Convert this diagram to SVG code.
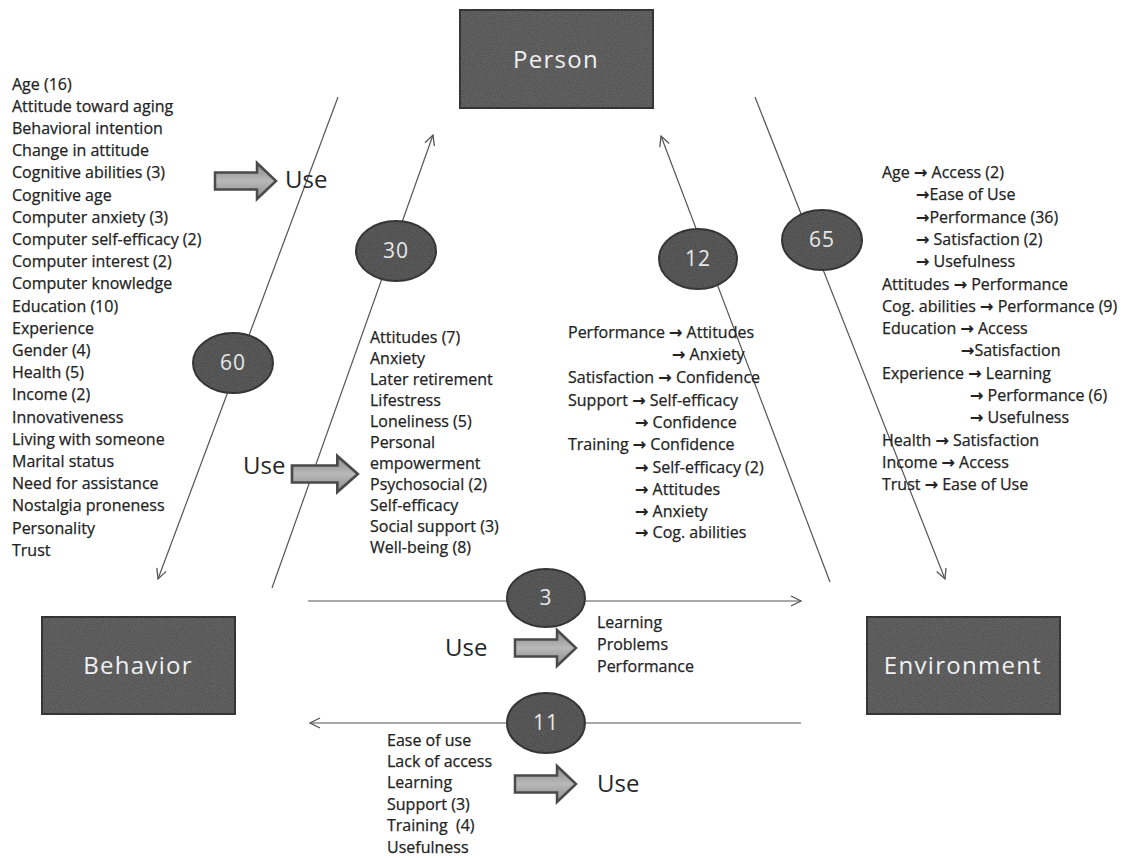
<svg xmlns="http://www.w3.org/2000/svg" width="1132" height="858" viewBox="0 0 1132 858">
  <style>
    .box { fill: #646464; stroke: #3a3a3a; stroke-width: 2; filter: url(#grain); }
    .box-label { font-family: "Open Sans", "DejaVu Sans", sans-serif; font-size: 24px; fill: #f0f0f0; text-anchor: middle; letter-spacing: 1.3px; }
    .count { fill: #5c5c5c; stroke: #3a3a3a; stroke-width: 2; filter: url(#grain); }
    .count-label { font-family: "Open Sans", "DejaVu Sans", sans-serif; font-size: 21px; fill: #e8e8e8; text-anchor: middle; letter-spacing: 1px; }
    .link { fill: none; stroke: #555; stroke-width: 1.2; marker-end: url(#open-arrow); }
    .list { font-family: "Open Sans", "DejaVu Sans", sans-serif; font-size: 16px; fill: #232323; stroke: #232323; stroke-width: 0.25; }
    .arr { font-family: "DejaVu Sans", sans-serif; font-weight: bold; }
    .use { font-family: "Open Sans", "DejaVu Sans", sans-serif; font-size: 24px; fill: #262626; }
    .block { fill: url(#block-fill); stroke: #4a4a4a; stroke-width: 2.5; stroke-linejoin: miter; }
  </style>
  <defs>
    <marker id="open-arrow" viewBox="0 0 12 12" refX="11" refY="6" markerWidth="12" markerHeight="12" markerUnits="userSpaceOnUse" orient="auto">
      <path d="M1,1 L11,6 L1,11" fill="none" stroke="#555" stroke-width="1.3"/>
    </marker>
    <linearGradient id="block-fill" x1="0" y1="0" x2="0" y2="1">
      <stop offset="0" stop-color="#8a8a8a"/>
      <stop offset="0.5" stop-color="#b8b8b8"/>
      <stop offset="1" stop-color="#8a8a8a"/>
    </linearGradient>
    <!-- speckled print texture for the dark shapes -->
    <filter id="grain">
      <feTurbulence type="fractalNoise" baseFrequency="0.85" numOctaves="1" seed="7" result="noise"/>
      <feColorMatrix in="noise" type="matrix" values="0 0 0 0 0  0 0 0 0 0  0 0 0 0 0  0.9 0 0 0 -0.3" result="speckle"/>
      <feComposite in="speckle" in2="SourceGraphic" operator="atop"/>
    </filter>
    <path id="block-arrow" d="M0,-8.5 H42 V-18 L61,0 L42,18 V8.5 H0 Z"/>
  </defs>

  <rect width="1132" height="858" fill="#ffffff"/>

  <!-- connectors -->
  <g id="connectors">
    <line class="link" x1="338" y1="97" x2="158" y2="579"/>
    <line class="link" x1="272" y1="588" x2="433" y2="135"/>
    <line class="link" x1="830" y1="582" x2="661" y2="136"/>
    <line class="link" x1="755" y1="97" x2="945" y2="579"/>
    <line class="link" x1="308" y1="601" x2="801" y2="601"/>
    <line class="link" x1="801" y1="723" x2="310" y2="723"/>
  </g>

  <!-- main nodes -->
  <g id="person">
    <rect class="box" x="460" y="10" width="193" height="98"/>
    <text class="box-label" x="556" y="68">Person</text>
  </g>
  <g id="behavior">
    <rect class="box" x="42" y="617" width="193" height="97"/>
    <text class="box-label" x="138" y="674">Behavior</text>
  </g>
  <g id="environment">
    <rect class="box" x="867" y="617" width="193" height="97"/>
    <text class="box-label" x="963" y="674">Environment</text>
  </g>

  <!-- study counts on each path -->
  <g id="count-60">
    <ellipse class="count" cx="233" cy="363" rx="40" ry="30"/>
    <text class="count-label" x="233" y="370">60</text>
  </g>
  <g id="count-30">
    <ellipse class="count" cx="396" cy="251" rx="40" ry="30"/>
    <text class="count-label" x="396" y="258">30</text>
  </g>
  <g id="count-12">
    <ellipse class="count" cx="698" cy="259" rx="39" ry="30"/>
    <text class="count-label" x="698" y="266">12</text>
  </g>
  <g id="count-65">
    <ellipse class="count" cx="822" cy="240" rx="40" ry="30"/>
    <text class="count-label" x="822" y="247">65</text>
  </g>
  <g id="count-3">
    <ellipse class="count" cx="546" cy="598" rx="39" ry="29"/>
    <text class="count-label" x="546" y="605">3</text>
  </g>
  <g id="count-11">
    <ellipse class="count" cx="546" cy="723" rx="39" ry="30"/>
    <text class="count-label" x="546" y="730">11</text>
  </g>

  <!-- person factors leading to use -->
  <g id="person-factors">
    <text class="list" x="12" y="89.5">
      <tspan x="12">Age (16)</tspan>
      <tspan x="12" dy="22.2">Attitude toward aging</tspan>
      <tspan x="12" dy="22.2">Behavioral intention</tspan>
      <tspan x="12" dy="22.2">Change in attitude</tspan>
      <tspan x="12" dy="22.2">Cognitive abilities (3)</tspan>
      <tspan x="12" dy="22.2">Cognitive age</tspan>
      <tspan x="12" dy="22.2">Computer anxiety (3)</tspan>
      <tspan x="12" dy="22.2">Computer self-efficacy (2)</tspan>
      <tspan x="12" dy="22.2">Computer interest (2)</tspan>
      <tspan x="12" dy="22.2">Computer knowledge</tspan>
      <tspan x="12" dy="22.2">Education (10)</tspan>
      <tspan x="12" dy="22.2">Experience</tspan>
      <tspan x="12" dy="22.2">Gender (4)</tspan>
      <tspan x="12" dy="22.2">Health (5)</tspan>
      <tspan x="12" dy="22.2">Income (2)</tspan>
      <tspan x="12" dy="22.2">Innovativeness</tspan>
      <tspan x="12" dy="22.2">Living with someone</tspan>
      <tspan x="12" dy="22.2">Marital status</tspan>
      <tspan x="12" dy="22.2">Need for assistance</tspan>
      <tspan x="12" dy="22.2">Nostalgia proneness</tspan>
      <tspan x="12" dy="22.2">Personality</tspan>
      <tspan x="12" dy="22.2">Trust</tspan>
    </text>
    <use href="#block-arrow" class="block" transform="translate(215,181)"/>
    <text class="use" x="285" y="188">Use</text>
  </g>

  <!-- outcomes of use for the person -->
  <g id="use-outcomes-person">
    <text class="use" x="243" y="474">Use</text>
    <use href="#block-arrow" class="block" transform="translate(292,474) scale(1.08,1)"/>
    <text class="list" x="370" y="342.5">
      <tspan x="370">Attitudes (7)</tspan>
      <tspan x="370" dy="21">Anxiety</tspan>
      <tspan x="370" dy="21">Later retirement</tspan>
      <tspan x="370" dy="21">Lifestress</tspan>
      <tspan x="370" dy="21">Loneliness (5)</tspan>
      <tspan x="370" dy="21">Personal</tspan>
      <tspan x="370" dy="21">empowerment</tspan>
      <tspan x="370" dy="21">Psychosocial (2)</tspan>
      <tspan x="370" dy="21">Self-efficacy</tspan>
      <tspan x="370" dy="21">Social support (3)</tspan>
      <tspan x="370" dy="21">Well-being (8)</tspan>
    </text>
  </g>

  <!-- environment to person relations -->
  <g id="environment-to-person">
    <text class="list">
      <tspan x="568" y="338">Performance <tspan class="arr">→</tspan> Attitudes</tspan>
      <tspan x="672" y="360"><tspan class="arr">→</tspan> Anxiety</tspan>
      <tspan x="568" y="383">Satisfaction <tspan class="arr">→</tspan> Confidence</tspan>
      <tspan x="568" y="406">Support <tspan class="arr">→</tspan> Self-efficacy</tspan>
      <tspan x="635" y="428"><tspan class="arr">→</tspan> Confidence</tspan>
      <tspan x="568" y="450">Training <tspan class="arr">→</tspan> Confidence</tspan>
      <tspan x="635" y="473"><tspan class="arr">→</tspan> Self-efficacy (2)</tspan>
      <tspan x="635" y="495"><tspan class="arr">→</tspan> Attitudes</tspan>
      <tspan x="635" y="517"><tspan class="arr">→</tspan> Anxiety</tspan>
      <tspan x="635" y="538"><tspan class="arr">→</tspan> Cog. abilities</tspan>
    </text>
  </g>

  <!-- person to environment relations -->
  <g id="person-to-environment">
    <text class="list">
      <tspan x="882" y="178">Age <tspan class="arr">→</tspan> Access (2)</tspan>
      <tspan x="916" y="200.3"><tspan class="arr">→</tspan>Ease of Use</tspan>
      <tspan x="916" y="222.6"><tspan class="arr">→</tspan>Performance (36)</tspan>
      <tspan x="916" y="244.9"><tspan class="arr">→</tspan> Satisfaction (2)</tspan>
      <tspan x="916" y="267.2"><tspan class="arr">→</tspan> Usefulness</tspan>
      <tspan x="882" y="289.5">Attitudes <tspan class="arr">→</tspan> Performance</tspan>
      <tspan x="882" y="311.8">Cog. abilities <tspan class="arr">→</tspan> Performance (9)</tspan>
      <tspan x="882" y="334.1">Education <tspan class="arr">→</tspan> Access</tspan>
      <tspan x="961" y="356.4"><tspan class="arr">→</tspan>Satisfaction</tspan>
      <tspan x="882" y="378.7">Experience <tspan class="arr">→</tspan> Learning</tspan>
      <tspan x="970" y="401"><tspan class="arr">→</tspan> Performance (6)</tspan>
      <tspan x="970" y="423.3"><tspan class="arr">→</tspan> Usefulness</tspan>
      <tspan x="882" y="445.6">Health <tspan class="arr">→</tspan> Satisfaction</tspan>
      <tspan x="882" y="467.9">Income <tspan class="arr">→</tspan> Access</tspan>
      <tspan x="882" y="490.2">Trust <tspan class="arr">→</tspan> Ease of Use</tspan>
    </text>
  </g>

  <!-- outcomes of use for the environment -->
  <g id="use-outcomes-environment">
    <text class="use" x="445" y="656">Use</text>
    <use href="#block-arrow" class="block" transform="translate(515,648)"/>
    <text class="list">
      <tspan x="597" y="628">Learning</tspan>
      <tspan x="597" y="650">Problems</tspan>
      <tspan x="597" y="672">Performance</tspan>
    </text>
  </g>

  <!-- environment factors leading to use -->
  <g id="environment-factors">
    <text class="list">
      <tspan x="387" y="745.5">Ease of use</tspan>
      <tspan x="387" y="766.9">Lack of access</tspan>
      <tspan x="387" y="788.3">Learning</tspan>
      <tspan x="387" y="809.7">Support (3)</tspan>
      <tspan x="387" y="831.1">Training&#160; (4)</tspan>
      <tspan x="387" y="852.5">Usefulness</tspan>
    </text>
    <use href="#block-arrow" class="block" transform="translate(515,784)"/>
    <text class="use" x="597" y="792">Use</text>
  </g>
</svg>
